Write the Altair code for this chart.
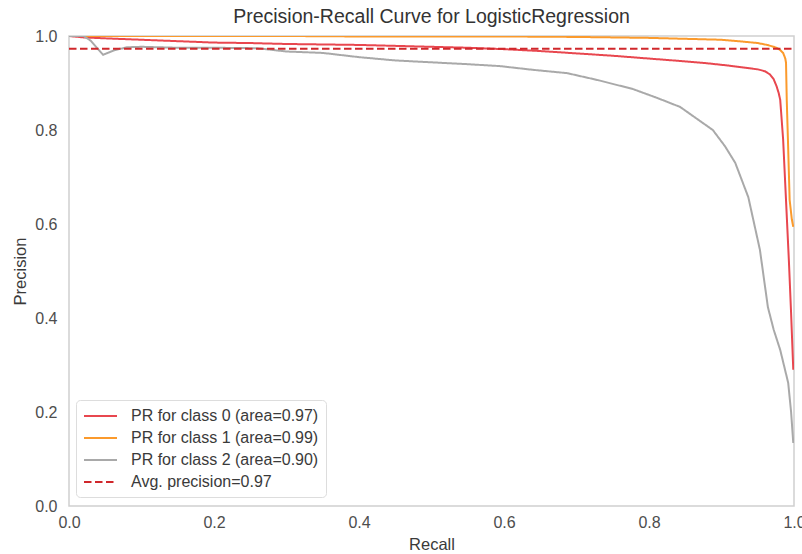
import altair as alt
import pandas as pd

# ---- data ----
labels = [
    "PR for class 0 (area=0.97)",
    "PR for class 1 (area=0.99)",
    "PR for class 2 (area=0.90)",
    "Avg. precision=0.97",
]
colors = ["#e8474f", "#fb9a2c", "#a9a9a9", "#d0272b"]

recall_0 = [0.0, 0.02, 0.05, 0.10, 0.15, 0.20, 0.25, 0.30, 0.35, 0.40, 0.45, 0.50,
            0.55, 0.60, 0.65, 0.70, 0.75, 0.80, 0.85, 0.88, 0.91, 0.93, 0.95, 0.96,
            0.967, 0.972, 0.976, 0.979, 0.981, 0.985, 0.989, 0.993, 0.996, 0.999]
precision_0 = [1.0, 0.997, 0.995, 0.992, 0.989, 0.986, 0.985, 0.983, 0.982, 0.981, 0.979, 0.977,
               0.975, 0.972, 0.968, 0.963, 0.958, 0.952, 0.946, 0.942, 0.937, 0.933, 0.929, 0.925,
               0.918, 0.908, 0.893, 0.878, 0.864, 0.78, 0.65, 0.52, 0.41, 0.29]

recall_1 = [0.0, 0.10, 0.20, 0.30, 0.40, 0.50, 0.60, 0.70, 0.80, 0.85, 0.90, 0.93,
            0.95, 0.963, 0.972, 0.977, 0.981, 0.985, 0.988, 0.989, 0.990, 0.992, 0.994,
            0.997, 0.999]
precision_1 = [1.0, 1.0, 1.0, 1.0, 0.999, 0.999, 0.999, 0.998, 0.996, 0.994, 0.992, 0.988,
               0.985, 0.981, 0.977, 0.974, 0.970, 0.964, 0.952, 0.943, 0.864, 0.76, 0.651,
               0.61, 0.594]

recall_2 = [0.0, 0.02, 0.03, 0.04, 0.047, 0.055, 0.063, 0.08, 0.10, 0.15, 0.20, 0.26,
            0.30, 0.35, 0.40, 0.45, 0.50, 0.55, 0.594, 0.64, 0.687, 0.73, 0.778, 0.81,
            0.843, 0.865, 0.888, 0.905, 0.919, 0.937, 0.953, 0.964, 0.972, 0.981, 0.992,
            0.996, 0.999]
precision_2 = [1.0, 1.0, 0.99, 0.972, 0.96, 0.965, 0.97, 0.976, 0.977, 0.975, 0.975, 0.974,
               0.967, 0.964, 0.955, 0.948, 0.944, 0.940, 0.936, 0.928, 0.921, 0.906, 0.887, 0.869,
               0.849, 0.825, 0.80, 0.765, 0.73, 0.657, 0.545, 0.423, 0.375, 0.332, 0.262,
               0.20, 0.134]

avg_recall = [0.0, 1.0]
avg_precision = [0.973, 0.973]

tick_values = [0, 0.2, 0.4, 0.6, 0.8, 1.0]

series = [
    (labels[0], recall_0, precision_0),
    (labels[1], recall_1, precision_1),
    (labels[2], recall_2, precision_2),
    (labels[3], avg_recall, avg_precision),
]
rows = []
for i, (name, rs, ps) in enumerate(series):
    for j, (r, p) in enumerate(zip(rs, ps)):
        rows.append({"series": name, "recall": r, "precision": p, "order": j, "k": i})
df = pd.DataFrame(rows)

FONT = "Liberation Sans"

legend_opts = dict(title=None, orient="none", legendX=7, legendY=364,
                   symbolType="M-1,0H3.125", symbolSize=256,
                   symbolStrokeWidth=2, labelOffset=30,
                   rowPadding=5, padding=7)

chart = alt.Chart(df).mark_line(strokeWidth=2, clip=True).encode(
    x=alt.X("recall:Q", title="Recall",
            scale=alt.Scale(domain=[0, 1], nice=False, zero=False),
            axis=alt.Axis(values=tick_values, format=".1f", labelFlush=False,
                          labelPadding=8, titlePadding=6)),
    y=alt.Y("precision:Q", title="Precision",
            scale=alt.Scale(domain=[0, 1], nice=False, zero=False),
            axis=alt.Axis(values=tick_values, format=".1f", labelFlush=False,
                          labelPadding=12, titlePadding=6)),
    color=alt.Color("series:N",
                    scale=alt.Scale(domain=labels, range=colors),
                    legend=alt.Legend(**legend_opts)),
    strokeDash=alt.StrokeDash("series:N",
                              scale=alt.Scale(domain=labels,
                                              range=[[1, 0], [1, 0], [1, 0], [7.5, 3.5]]),
                              legend=alt.Legend(**legend_opts)),
    detail="series:N",
    order="order:Q",
).properties(
    width=725,
    height=470,
    title=alt.TitleParams("Precision-Recall Curve for LogisticRegression",
                          fontSize=19.5, font=FONT, fontWeight="normal",
                          color="#333333", anchor="middle", offset=1),
    autosize=alt.AutoSizeParams(type="none"),
    padding={"left": 69, "top": 36, "right": 8, "bottom": 48},
    background="white",
).configure_view(
    stroke="#d0d0d0", strokeWidth=1.5, fill="white"
).configure_axis(
    grid=False, ticks=False, domain=False,
    labelFont=FONT, labelFontSize=16, labelColor="#4d4d4d",
    titleFont=FONT, titleFontSize=16.5, titleColor="#3a3a3a", titleFontWeight="normal",
).configure_legend(
    labelFont=FONT, labelFontSize=16, labelColor="#3a3a3a",
    fillColor="white", strokeColor="#dddddd", cornerRadius=4,
    labelLimit=400,
)

chart.save("out.html", embed_options={"renderer": "svg", "actions": False})
